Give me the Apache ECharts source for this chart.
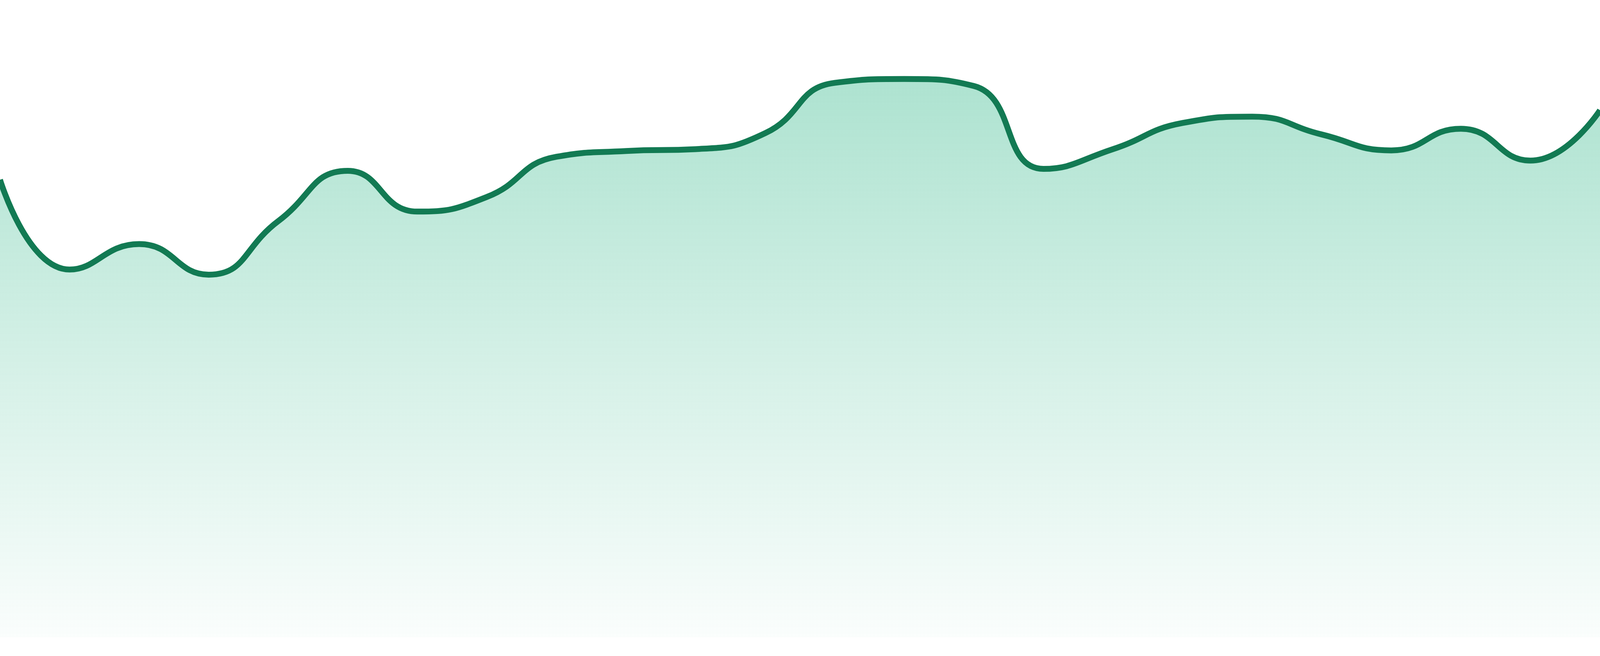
<!DOCTYPE html>
<html>
<head>
<meta charset="utf-8">
<script src="https://cdn.jsdelivr.net/npm/echarts@6/dist/echarts.min.js"></script>
<style>
html,body{margin:0;padding:0;background:#ffffff;overflow:hidden;width:100%;height:100%;}
#chart{width:100vw;height:100vh;}
</style>
</head>
<body>
<div id="chart"></div>
<script>
const categories = ['1','2','3','4','5','6','7','8','9','10','11','12','13','14','15','16','17','18','19','20','21','22','23','24'];
const values = [71.8, 57.7, 61.7, 56.9, 65.3, 73.2, 66.8, 69.1, 75.4, 76.3, 76.6, 79.1, 87.0, 87.6, 86.5, 73.5, 76.6, 80.7, 81.7, 78.9, 76.4, 79.8, 74.8, 82.7];

const el = document.getElementById('chart');
const ky = el.clientHeight / 1680;  // vertical scale relative to the reference
const chart = echarts.init(el);
chart.setOption({
  animation: false,
  grid: { left: 0, right: 0, top: 0, bottom: 48 * ky },
  xAxis: { type: 'category', data: categories, boundaryGap: false, show: false },
  yAxis: { type: 'value', min: 0, max: 100, show: false },
  series: [{
    type: 'line',
    data: values,
    smooth: true,
    symbol: 'none',
    lineStyle: { color: '#127a53', width: 15 * ky },
    areaStyle: {
      opacity: 1,
      color: new echarts.graphic.LinearGradient(0, 0, 0, 1, [
        { offset: 0, color: 'rgba(16,172,118,0.34)' },
        { offset: 1, color: 'rgba(16,172,118,0.02)' }
      ])
    }
  }]
});
window.addEventListener('resize', () => chart.resize());
</script>
</body>
</html>
